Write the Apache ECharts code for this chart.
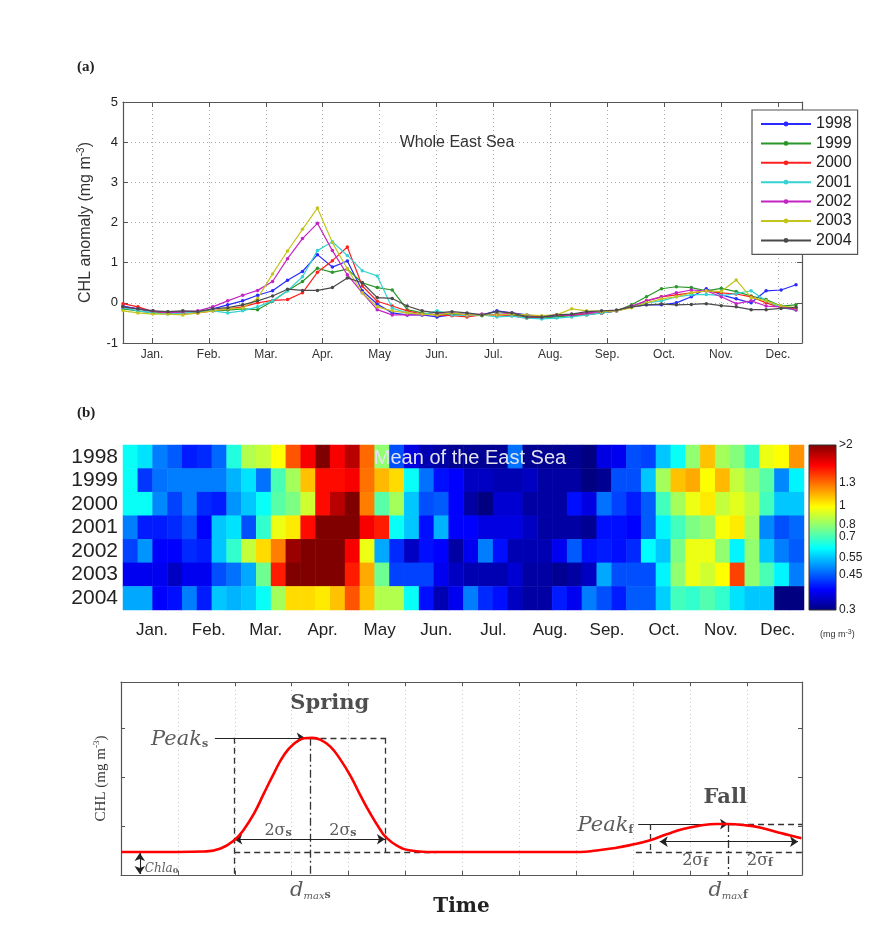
<!DOCTYPE html>
<html>
<head>
<meta charset="utf-8">
<script src="https://cdn.jsdelivr.net/npm/echarts@6/dist/echarts.min.js"></script>
<style>html,body{margin:0;padding:0;background:#fff}#c{width:883px;height:930px}</style>
</head>
<body>
<div id="c"></div>
<script>
// ---------------- DATA ----------------
const years = ['1998', '1999', '2000', '2001', '2002', '2003', '2004'];
const months = ['Jan.', 'Feb.', 'Mar.', 'Apr.', 'May', 'Jun.', 'Jul.', 'Aug.', 'Sep.', 'Oct.', 'Nov.', 'Dec.'];
// month tick positions in 8-day composite index units (1..46)
const monthTicks = [2.94, 6.74, 10.55, 14.35, 18.16, 21.96, 25.77, 29.57, 33.37, 37.18, 40.98, 44.79];
const composites = ['1','2','3','4','5','6','7','8','9','10','11','12','13','14','15','16','17','18','19','20','21','22','23',
  '24','25','26','27','28','29','30','31','32','33','34','35','36','37','38','39','40','41','42','43','44','45','46'];

// (a) CHL anomaly (mg m-3), 46 eight-day composites per year
const a1998 = [-0.08,-0.15,-0.22,-0.25,-0.22,-0.24,-0.15,-0.05,0.05,0.19, 0.30,0.56,0.78,1.20,0.89,1.04,0.30,-0.03,-0.25,-0.30,
  -0.30,-0.35,-0.30,-0.28,-0.30,-0.20,-0.25,-0.30,-0.35,-0.33, -0.30,-0.28,-0.25,-0.20,-0.10,-0.05,-0.05,0.00,0.15,0.35, 0.20,0.10,0.00,0.30,0.32,0.45];
const a1999 = [-0.15,-0.20,-0.25,-0.22,-0.25,-0.22,-0.20,-0.18,-0.15,-0.17, 0.04,0.30,0.53,0.86,0.76,0.84,0.50,0.38,0.32,-0.17,
  -0.25,-0.30,-0.28,-0.30,-0.32,-0.28,-0.30,-0.35,-0.38,-0.35, -0.32,-0.30,-0.25,-0.20,-0.05,0.15,0.35,0.40,0.38,0.30, 0.36,0.28,0.17,0.08,-0.08,-0.05];
const a2000 = [-0.02,-0.10,-0.22,-0.25,-0.25,-0.25,-0.20,-0.15,-0.10,0.00, 0.06,0.08,0.25,0.76,1.05,1.39,0.42,0.04,-0.08,-0.20,
  -0.28,-0.30,-0.32,-0.35,-0.30,-0.30,-0.32,-0.38,-0.35,-0.30, -0.30,-0.28,-0.25,-0.20,-0.10,0.05,0.15,0.20,0.25,0.30, 0.25,0.22,0.15,0.00,-0.12,-0.15];
const a2001 = [-0.12,-0.20,-0.25,-0.28,-0.25,-0.22,-0.20,-0.25,-0.20,-0.10, 0.05,0.30,0.65,1.30,1.52,1.18,0.80,0.67,-0.13,-0.25,
  -0.30,-0.20,-0.30,-0.32,-0.30,-0.35,-0.33,-0.38,-0.40,-0.38, -0.35,-0.30,-0.25,-0.20,-0.10,0.00,0.05,0.15,0.20,0.21, 0.18,0.23,0.30,0.05,-0.12,-0.18];
const a2002 = [-0.10,-0.15,-0.20,-0.25,-0.22,-0.20,-0.10,0.05,0.19,0.31, 0.53,1.10,1.60,1.98,1.30,0.70,0.25,-0.17,-0.30,-0.30,
  -0.30,-0.28,-0.25,-0.30,-0.28,-0.30,-0.25,-0.32,-0.35,-0.30, -0.30,-0.25,-0.22,-0.20,-0.08,0.05,0.15,0.25,0.32,0.30, 0.15,-0.02,0.05,-0.08,-0.10,-0.18];
const a2003 = [-0.20,-0.25,-0.28,-0.28,-0.30,-0.25,-0.20,-0.15,-0.13,0.11, 0.72,1.29,1.83,2.36,1.50,0.85,0.25,-0.10,-0.20,-0.25,
  -0.28,-0.30,-0.25,-0.30,-0.30,-0.30,-0.28,-0.30,-0.32,-0.30, -0.15,-0.20,-0.22,-0.20,-0.12,0.00,0.10,0.15,0.25,0.30, 0.28,0.57,0.13,0.05,-0.08,-0.12];
const a2004 = [-0.10,-0.15,-0.20,-0.22,-0.20,-0.22,-0.15,-0.12,-0.05,0.05, 0.17,0.34,0.31,0.31,0.38,0.62,0.50,0.13,0.11,-0.08,
  -0.20,-0.25,-0.22,-0.25,-0.30,-0.22,-0.25,-0.35,-0.35,-0.30, -0.28,-0.22,-0.20,-0.18,-0.10,-0.05,-0.03,-0.05,-0.04,-0.02, -0.07,-0.10,-0.17,-0.17,-0.14,-0.11];
const anomalies = [a1998, a1999, a2000, a2001, a2002, a2003, a2004];
const yearColors = ['#2a2aff', '#2a962a', '#ff2020', '#35d3d3', '#c424c4', '#c4c41e', '#4a4a4a'];

// (b) mean CHL (mg m-3) of the East Sea, 46 composites per year
const h1998 = [0.62,0.58,0.48,0.45,0.40,0.41,0.46,0.65,0.85,0.88,0.98,1.35,1.6,2.1,1.6,1.8, 1.3,0.8,0.44,0.36,0.33,0.32,0.31,0.31,0.31,0.31,0.47,0.31,0.31,0.31,0.31, 0.30,0.36,0.37,0.44,0.43,0.55,0.62,0.8,1.1,0.83,0.78,0.67,0.95,0.98,1.2];
const h1999 = [0.62,0.42,0.47,0.48,0.48,0.48,0.48,0.53,0.58,0.47,0.70,0.83,1.1,1.55,1.55,1.6, 1.28,1.12,1.05,0.62,0.47,0.39,0.38,0.34,0.34,0.33,0.33,0.34,0.32,0.32,0.32, 0.30,0.31,0.44,0.44,0.55,0.83,1.1,1.15,0.98,1.12,0.88,0.8,0.72,0.49,0.6];
const h2000 = [0.62,0.62,0.49,0.43,0.48,0.41,0.40,0.50,0.55,0.62,0.72,0.77,0.90,1.55,1.8,2.1, 1.25,0.72,0.83,0.55,0.44,0.45,0.38,0.32,0.30,0.35,0.35,0.32,0.32,0.32,0.39, 0.36,0.47,0.43,0.40,0.45,0.69,0.83,0.95,1.02,0.88,0.93,0.86,0.69,0.55,0.55];
const h2001 = [0.48,0.40,0.40,0.41,0.44,0.38,0.55,0.58,0.44,0.67,0.95,1.02,1.55,2.1,2.1,2.0, 1.6,1.5,0.62,0.55,0.39,0.53,0.38,0.38,0.36,0.36,0.36,0.34,0.32,0.32,0.32, 0.31,0.39,0.39,0.38,0.45,0.60,0.69,0.77,0.80,0.97,1.02,0.83,0.49,0.44,0.46];
const h2002 = [0.43,0.50,0.38,0.38,0.41,0.40,0.55,0.67,0.88,1.05,1.25,1.9,2.2,2.2,2.2,1.6, 0.95,0.52,0.41,0.34,0.39,0.38,0.32,0.37,0.48,0.39,0.33,0.33,0.33,0.37,0.45, 0.39,0.40,0.39,0.41,0.61,0.55,0.77,0.95,0.95,0.80,0.60,0.80,0.55,0.48,0.45];
const h2003 = [0.37,0.37,0.37,0.34,0.37,0.37,0.44,0.47,0.52,0.75,1.5,2.2,2.2,2.2,2.2,1.5, 1.15,0.75,0.43,0.43,0.43,0.37,0.34,0.33,0.33,0.33,0.35,0.32,0.32,0.31,0.32, 0.34,0.52,0.44,0.44,0.44,0.60,0.80,0.95,0.90,0.98,1.4,0.80,0.70,0.60,0.48];
const h2004 = [0.52,0.52,0.38,0.39,0.48,0.40,0.55,0.53,0.55,0.62,0.83,1.05,1.05,1.02,1.1,1.35, 1.1,0.85,0.85,0.62,0.39,0.33,0.37,0.48,0.41,0.39,0.34,0.32,0.32,0.40,0.37, 0.48,0.44,0.40,0.45,0.45,0.56,0.69,0.67,0.71,0.67,0.58,0.55,0.55,0.30,0.30];
const heatRows = [h1998, h1999, h2000, h2001, h2002, h2003, h2004];
const cbTickVals = [0.3, 0.45, 0.55, 0.7, 0.8, 1, 1.3, 2];
const cbTickLabels = ['0.3', '0.45', '0.55', '0.7', '0.8', '1', '1.3', '>2'];
const jet = ['#000080', '#0000ff', '#0080ff', '#00ffff', '#80ff80', '#ffff00', '#ff8000', '#ff0000', '#800000'];

// (c) schematic seasonal CHL curve (time units, CHL units)
const curveX = [0, 1.0, 1.46, 1.75, 2.0, 2.16, 2.34, 2.51, 2.69, 2.86, 3.04, 3.22, 3.36, 3.51, 3.68, 3.86, 4.04, 4.21, 4.39, 4.56, 4.65, 4.85, 5.09, 5.38,
  8.07, 8.36, 8.65, 8.95, 9.30, 9.59, 9.88, 10.18, 10.47, 10.67, 10.94, 11.23, 11.52, 11.75, 11.96];
const curveY = [0.47, 0.47, 0.48, 0.54, 0.72, 0.93, 1.26, 1.66, 2.08, 2.44, 2.68, 2.79, 2.80, 2.76, 2.62, 2.35, 2.01, 1.62, 1.24, 0.92, 0.78, 0.60, 0.50, 0.47,
  0.47, 0.50, 0.545, 0.61, 0.71, 0.83, 0.94, 1.01, 1.04, 1.04, 1.02, 0.97, 0.88, 0.81, 0.75];
const chla0 = 0.47;
const spring = [3.33, 2.80, 1.99, 4.64];   // dmax, peak, left 2σ, right 2σ
const fall = [10.67, 1.04, 9.30, 11.90];   // dmax, peak, left 2σ, right 2σ
const arrowLevel = [0.73, 0.68];           // heights of the 2σ arrows (spring, fall)

// ---------------- CHART ----------------
const SANS = 'Arial, "Liberation Sans", sans-serif';
const NARROW = '"Liberation Sans Narrow", "Arial Narrow", Arial, sans-serif';
const SERIF = '"DejaVu Serif", serif';
const TIMES = '"Times New Roman", "Liberation Serif", serif';
const LO = Math.log10(0.3), HI = Math.log10(2);
const AX = '#555';
const chart = echarts.init(document.getElementById('c'));

const heatData = [];
heatRows.forEach((row, r) => row.forEach((v, c) => {
  heatData.push([c, r, Math.min(HI, Math.max(LO, Math.log10(v)))]);
}));

function frameLine() { return { show: true, onZero: false, lineStyle: { color: AX, width: 1.2 } }; }
function monthName(v) {
  let best = 0;
  monthTicks.forEach((t, i) => { if (Math.abs(t - v) < Math.abs(monthTicks[best] - v)) best = i; });
  return months[best];
}

const lineSeries = anomalies.map((vals, i) => ({
  name: years[i], type: 'line', xAxisIndex: 0, yAxisIndex: 0,
  data: vals.map((v, k) => [k + 1, v]),
  symbol: 'circle', symbolSize: 3.5, showSymbol: true,
  lineStyle: { width: 1.2, color: yearColors[i] },
  itemStyle: { color: yearColors[i] },
  emphasis: { disabled: true }, animation: false, z: 3
}));

const dash = { type: [6, 4], color: '#333', width: 1.3 };
const dashDot = { type: [8, 3, 2, 3], color: '#333', width: 1.3 };
const solid = { type: 'solid', color: '#222', width: 1.1 };
function seg(p, q, style, s1, s2) {
  return [{ coord: p, symbol: s1 || 'none', lineStyle: style }, { coord: q, symbol: s2 || 'none' }];
}
const markLines = [
  seg([spring[2], spring[1]], [spring[2], 0], dash),
  seg([spring[0], spring[1]], [spring[3], spring[1]], dash),
  seg([spring[3], spring[1]], [spring[3], chla0], dash),
  seg([spring[2], chla0], [spring[3] + 0.9, chla0], dash),
  seg([spring[0], spring[1]], [spring[0], 0], dashDot),
  seg([1.65, spring[1]], [spring[0] - 0.1, spring[1]], solid, 'none', 'arrow'),
  seg([spring[0], arrowLevel[0]], [spring[2], arrowLevel[0]], solid, 'none', 'arrow'),
  seg([spring[0], arrowLevel[0]], [spring[3], arrowLevel[0]], solid, 'none', 'arrow'),
  seg([0.33, 0.02], [0.33, chla0 - 0.02], solid, 'arrow', 'arrow'),
  seg([9.09, fall[1]], [fall[0], fall[1]], solid, 'none', 'arrow'),
  seg([fall[0], fall[1]], [11.97, fall[1]], dash),
  seg([fall[2], fall[1]], [fall[2], chla0], dash),
  seg([9.05, chla0], [11.97, chla0], dash),
  seg([fall[0], fall[1]], [fall[0], 0], dashDot),
  seg([fall[0], arrowLevel[1]], [9.47, arrowLevel[1]], solid, 'none', 'arrow'),
  seg([fall[0], arrowLevel[1]], [fall[3], arrowLevel[1]], solid, 'none', 'arrow')
];

const richC = {
  it: { fontFamily: SERIF, fontStyle: 'italic', fontSize: 21, color: '#333', verticalAlign: 'bottom', lineHeight: 24 },
  sb: { fontFamily: SERIF, fontWeight: 'bold', fontSize: 11, color: '#333', verticalAlign: 'bottom', lineHeight: 12 },
  n: { fontFamily: SERIF, fontSize: 16, color: '#333', verticalAlign: 'bottom', lineHeight: 20 },
  si: { fontFamily: SERIF, fontStyle: 'italic', fontSize: 10, color: '#333', verticalAlign: 'bottom', lineHeight: 12 },
  sm: { fontFamily: SERIF, fontStyle: 'italic', fontSize: 12, color: '#333', verticalAlign: 'bottom', lineHeight: 16 },
  sz: { fontFamily: SERIF, fontWeight: 'bold', fontSize: 8, color: '#333', verticalAlign: 'bottom', lineHeight: 12 },
  bold: { fontFamily: SERIF, fontWeight: 'bold', fontSize: 21, color: '#222' }
};
function txt(pos, text, position, offset) {
  return { value: pos, label: { show: true, formatter: text, position: position || 'inside', offset: offset || [0, 0], rich: richC } };
}
const textItems = [
  txt([3.67, 3.51], '{bold|Spring}'),
  txt([1.62, spring[1]], '{it|Peak}{sb|s}', 'left', [0, 0]),
  txt([2.76, 0.94], '{n|2σ}{sb|s}'),
  txt([3.90, 0.94], '{n|2σ}{sb|s}'),
  txt([0.40, 0.16], '{sm|Chla}{sz|0}', 'right', [-4, 0]),
  txt([spring[0], 0], '{it|d}{si|max}{sb|s}', 'inside', [0, 14]),
  txt([10.62, 1.59], '{bold|Fall}'),
  txt([9.09, fall[1]], '{it|Peak}{sb|f}', 'left', [0, 0]),
  txt([10.09, 0.33], '{n|2σ}{sb|f}'),
  txt([11.23, 0.33], '{n|2σ}{sb|f}'),
  txt([fall[0], 0], '{it|d}{si|max}{sb|f}', 'inside', [0, 14])
];

const option = {
  backgroundColor: '#fff',
  animation: false,
  grid: [
    { left: 123, top: 102, width: 679, height: 241 },
    { left: 123, top: 445, width: 681, height: 165 },
    { left: 809, top: 445, width: 27, height: 165 },
    { left: 121, top: 682, width: 681, height: 193 }
  ],
  legend: {
    data: years, left: 752, top: 110, orient: 'vertical',
    itemWidth: 50, itemHeight: 6, itemGap: 3.4,
    padding: [6, 6, 6, 8], borderColor: AX, borderWidth: 1.2, backgroundColor: '#fff',
    textStyle: { fontSize: 16, lineHeight: 16, fontFamily: SANS, color: '#222' },
    selectedMode: false, z: 10
  },
  visualMap: {
    type: 'continuous', show: false, seriesIndex: 7, dimension: 2,
    min: LO, max: HI, inRange: { color: jet }
  },
  xAxis: [
    { type: 'value', gridIndex: 0, min: 1, max: 46.4, position: 'bottom',
      axisLine: frameLine(),
      axisTick: { show: true, inside: true, length: 5, customValues: monthTicks, lineStyle: { color: AX } },
      axisLabel: { show: true, customValues: monthTicks, formatter: monthName, fontSize: 12, color: '#333', fontFamily: SANS, margin: 6 },
      splitLine: { show: true, lineStyle: { type: [1, 3], color: '#aaa' } } },
    { type: 'value', gridIndex: 0, min: 1, max: 46.4, position: 'top',
      axisLine: frameLine(),
      axisTick: { show: true, inside: true, length: 5, customValues: monthTicks, lineStyle: { color: AX } },
      axisLabel: { show: false }, splitLine: { show: false } },
    { type: 'category', gridIndex: 1, data: composites, show: false, position: 'bottom' },
    { type: 'value', gridIndex: 1, min: 1, max: 46.54, position: 'bottom',
      axisLine: { show: false }, axisTick: { show: false }, splitLine: { show: false },
      axisLabel: { show: true, customValues: monthTicks, formatter: monthName, fontSize: 17, color: '#222', fontFamily: SANS, margin: 12 } },
    { type: 'value', gridIndex: 2, min: 0, max: 1, show: false },
    { type: 'value', gridIndex: 3, min: 0, max: 11.97, interval: 1, position: 'bottom',
      axisLine: frameLine(),
      axisTick: { show: true, inside: true, length: 4, lineStyle: { color: AX } },
      axisLabel: { show: false },
      splitLine: { show: true, lineStyle: { type: [1, 3], color: '#c8c8c8' } },
      name: 'Time', nameLocation: 'middle', nameGap: 22,
      nameTextStyle: { fontFamily: SERIF, fontWeight: 'bold', fontSize: 20, color: '#222' } },
    { type: 'value', gridIndex: 3, min: 0, max: 11.97, interval: 1, position: 'top',
      axisLine: frameLine(),
      axisTick: { show: true, inside: true, length: 4, lineStyle: { color: AX } },
      axisLabel: { show: false }, splitLine: { show: false } }
  ],
  yAxis: [
    { type: 'value', gridIndex: 0, min: -1, max: 5, interval: 1, position: 'left',
      axisLine: frameLine(),
      axisTick: { show: true, inside: true, length: 5, lineStyle: { color: AX } },
      axisLabel: { fontSize: 13, color: '#222', fontFamily: SANS, margin: 5 },
      splitLine: { show: true, lineStyle: { type: [1, 3], color: '#aaa' } },
      name: '{a|CHL anomaly (mg m}{s|-3}{a|)}', nameLocation: 'middle', nameRotate: 90, nameGap: 29,
      nameTextStyle: { rich: {
        a: { fontSize: 16, fontFamily: SANS, color: '#333', verticalAlign: 'bottom', lineHeight: 18 },
        s: { fontSize: 10, fontFamily: SANS, color: '#333', verticalAlign: 'top', lineHeight: 10 } } } },
    { type: 'value', gridIndex: 0, min: -1, max: 5, interval: 1, position: 'right',
      axisLine: frameLine(),
      axisTick: { show: true, inside: true, length: 5, lineStyle: { color: AX } },
      axisLabel: { show: false }, splitLine: { show: false } },
    { type: 'category', gridIndex: 1, data: years, inverse: true,
      axisLine: { show: false }, axisTick: { show: false }, splitLine: { show: false },
      axisLabel: { interval: 0, fontSize: 21, lineHeight: 21, color: '#222', fontFamily: SANS, margin: 5 } },
    { type: 'value', gridIndex: 2, min: LO, max: HI, position: 'right',
      axisLine: { show: false }, axisTick: { show: false }, splitLine: { show: false },
      axisLabel: { show: true, customValues: cbTickVals.map(Math.log10), showMinLabel: true, showMaxLabel: true,
        formatter: (v) => {
          let best = 0;
          cbTickVals.forEach((t, i) => { if (Math.abs(Math.log10(t) - v) < Math.abs(Math.log10(cbTickVals[best]) - v)) best = i; });
          return cbTickLabels[best];
        },
        fontSize: 12, color: '#222', fontFamily: NARROW, margin: 3 } },
    { type: 'value', gridIndex: 3, min: 0, max: 3.94, interval: 1, position: 'left',
      axisLine: frameLine(),
      axisTick: { show: true, inside: true, length: 4, lineStyle: { color: AX } },
      axisLabel: { show: false }, splitLine: { show: false },
      name: '{a|CHL (mg m}{s|-3}{a|)}', nameLocation: 'middle', nameRotate: 90, nameGap: 12,
      nameTextStyle: { rich: {
        a: { fontSize: 15, fontFamily: TIMES, color: '#333', verticalAlign: 'bottom', lineHeight: 17 },
        s: { fontSize: 9, fontFamily: TIMES, color: '#333', verticalAlign: 'top', lineHeight: 9 } } } },
    { type: 'value', gridIndex: 3, min: 0, max: 3.94, interval: 1, position: 'right',
      axisLine: frameLine(),
      axisTick: { show: true, inside: true, length: 4, lineStyle: { color: AX } },
      axisLabel: { show: false }, splitLine: { show: false } }
  ],
  series: [
    ...lineSeries,
    { type: 'heatmap', xAxisIndex: 2, yAxisIndex: 2, data: heatData,
      itemStyle: { borderWidth: 0 }, emphasis: { disabled: true }, progressive: 0, z: 2 },
    { type: 'custom', xAxisIndex: 4, yAxisIndex: 3, data: [[0, LO]], silent: true,
      renderItem: (params, api) => {
        const p0 = api.coord([0, HI]);
        const p1 = api.coord([1, LO]);
        return { type: 'rect',
          shape: { x: p0[0], y: p0[1], width: p1[0] - p0[0], height: p1[1] - p0[1] },
          style: { fill: new echarts.graphic.LinearGradient(0, 1, 0, 0,
            jet.map((c, i) => ({ offset: i / (jet.length - 1), color: c }))), stroke: '#333', lineWidth: 1 } };
      } },
    { type: 'line', xAxisIndex: 5, yAxisIndex: 4, data: curveX.map((x, i) => [x, curveY[i]]),
      smooth: 0.5, showSymbol: false, symbol: 'none',
      lineStyle: { color: '#ff0000', width: 2.6 }, z: 5, emphasis: { disabled: true },
      markLine: { silent: true, symbol: ['none', 'none'], symbolSize: 8, label: { show: false },
        animation: false, data: markLines, z: 4 } },
    { type: 'scatter', xAxisIndex: 5, yAxisIndex: 4, symbolSize: 0, clip: false, silent: true,
      data: textItems, z: 6 }
  ],
  graphic: [
    { type: 'text', x: 77, y: 67, z: 100, style: { text: '(a)', fontFamily: TIMES, fontWeight: 'bold', fontSize: 15, fill: '#222', verticalAlign: 'middle' } },
    { type: 'text', x: 77, y: 413, z: 100, style: { text: '(b)', fontFamily: TIMES, fontWeight: 'bold', fontSize: 15, fill: '#222', verticalAlign: 'middle' } },
    { type: 'text', x: 457, y: 143, z: 100, style: { text: 'Whole East Sea', fontFamily: SANS, fontSize: 16, fill: '#333', align: 'center', verticalAlign: 'middle' } },
    { type: 'text', x: 470, y: 458, z: 100, style: { text: 'Mean of the East Sea', fontFamily: SANS, fontSize: 20, fill: '#e4e4ee', align: 'center', verticalAlign: 'middle' } },
    { type: 'text', x: 820, y: 634, z: 100, style: { text: '{a|(mg m}{s|-3}{a|)}', verticalAlign: 'middle',
      rich: { a: { fontSize: 9, fontFamily: NARROW, fill: '#333', color: '#333', verticalAlign: 'bottom', lineHeight: 11 },
              s: { fontSize: 7, fontFamily: NARROW, fill: '#333', color: '#333', verticalAlign: 'top', lineHeight: 7 } } } }
  ]
};
chart.setOption(option);
</script>
</body>
</html>
